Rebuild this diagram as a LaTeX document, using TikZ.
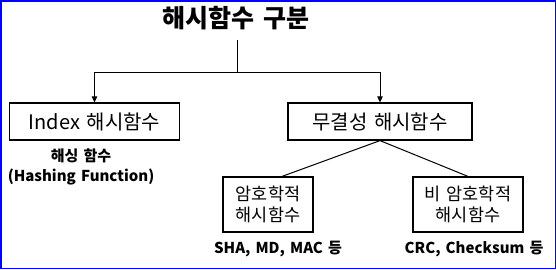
\documentclass[tikz,border=0pt]{standalone}
\usepackage{fontspec}
\setmainfont[WordSpace=1.5]{Noto Sans CJK KR}
\usetikzlibrary{arrows.meta}
\begin{document}
\begin{tikzpicture}[x=1pt,y=-1pt,
  box/.style={draw=black,line width=1.2pt,inner sep=0pt,align=center},
  conn/.style={draw=black,line width=1pt},
  arr/.style={conn,-{Triangle[length=6pt,width=5.5pt]}},
  lbl/.style={font=\fontsize{15}{20}\selectfont\bfseries,inner sep=0pt,align=center}]
\useasboundingbox (0,0) rectangle (556,269);
\draw[blue,line width=1.5pt] (0.75,0.75) rectangle (555.25,268.25);
% title
\node[inner sep=0pt,font=\fontsize{25}{30}\selectfont\bfseries] (title) at (236,18) {해시함수 구분};
% boxes
\node[box,minimum width=170pt,minimum height=37pt,font=\fontsize{20}{24}\selectfont] (idx) at (94.5,121.5) {Index 해시함수};
\node[box,minimum width=184pt,minimum height=37pt,font=\fontsize{20}{24}\selectfont] (int) at (380,121.5) {무결성 해시함수};
\node[box,minimum width=90pt,minimum height=55pt,font=\fontsize{17.5}{21.5}\selectfont] (cry) at (268,204.5) {암호학적\\해시함수};
\node[box,minimum width=110pt,minimum height=55pt,font=\fontsize{17.5}{21.5}\selectfont] (ncry) at (468,204.5) {비 암호학적\\해시함수};
% labels
\node[lbl] (hlbl) at (81,167) {해싱 함수\\(Hashing Function)};
\node[lbl] (clbl) at (278,249) {SHA, MD, MAC 등};
\node[lbl] (nlbl) at (474,249) {CRC, Checksum 등};
% connectors
\draw[conn] (title) ++(1,22) -- ++(0,32) coordinate (split);
\draw[arr] (split) -| (idx.north);
\draw[arr] (split) -| (int.north);
\draw[conn] (int.south) -- ([xshift=14pt]cry.north);
\draw[conn] (int.south) -- (ncry.north);
\end{tikzpicture}
\end{document}
